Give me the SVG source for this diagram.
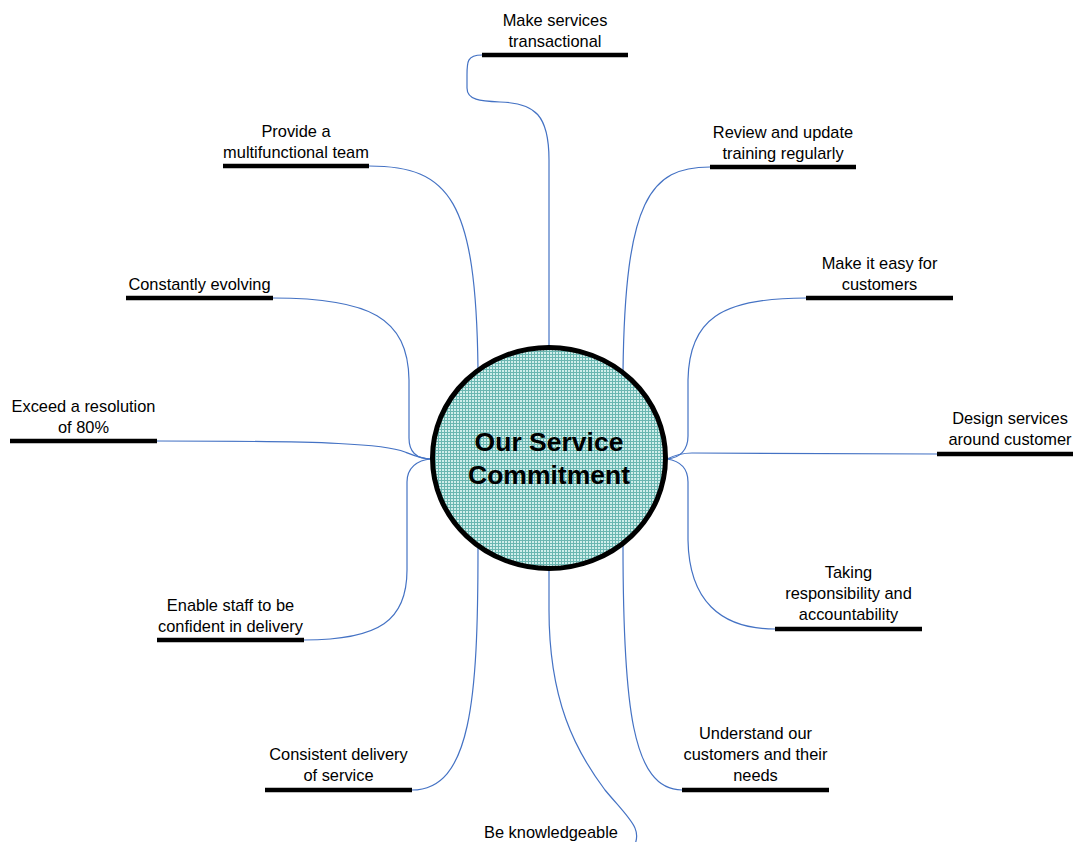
<svg xmlns="http://www.w3.org/2000/svg" width="1073" height="842" viewBox="0 0 1073 842">
  <style>
    .lbl { font-family: "Liberation Sans", Arial, sans-serif; font-size: 16.4px; fill: #000; text-anchor: middle; }
    .title { font-family: "Liberation Sans", Arial, sans-serif; font-size: 26.5px; font-weight: bold; fill: #000; text-anchor: middle; }
    .bar { stroke: #000; stroke-width: 4.5; fill: none; }
    .conn { stroke: #4472c4; stroke-width: 1.2; fill: none; }
  </style>
  <defs>
    <!-- fine teal grid used to fill the central hub -->
    <pattern id="grid" width="3" height="3" patternUnits="userSpaceOnUse">
      <rect width="3" height="3" fill="#d0eeeb"/>
      <rect width="3" height="1" fill="#6ab6b1"/>
      <rect width="1" height="3" fill="#6ab6b1"/>
    </pattern>
  </defs>
  <rect width="1073" height="842" fill="#fff"/>

  <!-- connectors from the hub to each label -->
  <g id="connectors">
    <path class="conn" d="M482,55 C467,55 467,62 467,75 L467,88 C467,100 480,101 500,102 C535,103 549,115 549,160 L549,348"/>
    <path class="conn" d="M369,166 C450,166 476,200 478,369"/>
    <path class="conn" d="M710,167 C650,167 625,200 623,372"/>
    <path class="conn" d="M273,298 C370,298 408,318 409,380 L409,438 C409,452 416,459 431,459"/>
    <path class="conn" d="M806,298 C720,298 689,320 688,380 L688,436 C688,450 680,458 667,459"/>
    <path class="conn" d="M157,441 C330,441 385,444 405,452 C415,456 422,459 431,459"/>
    <path class="conn" d="M937,454 L692,453 C681,453 673,456 667,459"/>
    <path class="conn" d="M304,640 C380,640 407,620 407,570 L407,482 C407,468 417,460 431,459"/>
    <path class="conn" d="M775,629 C720,629 689,600 688,540 L688,482 C688,468 680,461 667,459"/>
    <path class="conn" d="M478,548 C478,700 471,790 412,790"/>
    <path class="conn" d="M623,545 C623,705 632,790 682,790"/>
    <path class="conn" d="M549,568 L549,610 C549,700 575,750 605,790 C630,820 645,830 632,850"/>
  </g>

  <!-- central hub -->
  <g id="hub">
    <ellipse cx="549" cy="458" rx="116.5" ry="110.5" fill="url(#grid)" stroke="#000" stroke-width="5"/>
    <text class="title" x="549" y="451">Our Service</text>
    <text class="title" x="549" y="484">Commitment</text>
  </g>

  <g id="n-transactional">
    <line class="bar" x1="482" y1="55" x2="628" y2="55"/>
    <text class="lbl" x="555" y="26">Make services</text>
    <text class="lbl" x="555" y="47">transactional</text>
  </g>
  <g id="n-team">
    <line class="bar" x1="223" y1="166" x2="369" y2="166"/>
    <text class="lbl" x="296" y="137">Provide a</text>
    <text class="lbl" x="296" y="158">multifunctional team</text>
  </g>
  <g id="n-training">
    <line class="bar" x1="710" y1="167" x2="856" y2="167"/>
    <text class="lbl" x="783" y="138">Review and update</text>
    <text class="lbl" x="783" y="159">training regularly</text>
  </g>
  <g id="n-evolving">
    <line class="bar" x1="126" y1="298" x2="273" y2="298"/>
    <text class="lbl" x="199.5" y="290">Constantly evolving</text>
  </g>
  <g id="n-easy">
    <line class="bar" x1="806" y1="298" x2="953" y2="298"/>
    <text class="lbl" x="879.5" y="269">Make it easy for</text>
    <text class="lbl" x="879.5" y="290">customers</text>
  </g>
  <g id="n-resolution">
    <line class="bar" x1="10" y1="441" x2="157" y2="441"/>
    <text class="lbl" x="83.5" y="412">Exceed a resolution</text>
    <text class="lbl" x="83.5" y="433">of 80%</text>
  </g>
  <g id="n-design">
    <line class="bar" x1="937" y1="454" x2="1083" y2="454"/>
    <text class="lbl" x="1010" y="424">Design services</text>
    <text class="lbl" x="1010" y="445">around customer</text>
  </g>
  <g id="n-confident">
    <line class="bar" x1="157" y1="640" x2="304" y2="640"/>
    <text class="lbl" x="230.5" y="611">Enable staff to be</text>
    <text class="lbl" x="230.5" y="632">confident in delivery</text>
  </g>
  <g id="n-responsibility">
    <line class="bar" x1="775" y1="629" x2="922" y2="629"/>
    <text class="lbl" x="848.5" y="578">Taking</text>
    <text class="lbl" x="848.5" y="599">responsibility and</text>
    <text class="lbl" x="848.5" y="620">accountability</text>
  </g>
  <g id="n-consistent">
    <line class="bar" x1="265" y1="790" x2="412" y2="790"/>
    <text class="lbl" x="338.5" y="760">Consistent delivery</text>
    <text class="lbl" x="338.5" y="781">of service</text>
  </g>
  <g id="n-understand">
    <line class="bar" x1="682" y1="790" x2="829" y2="790"/>
    <text class="lbl" x="755.5" y="739">Understand our</text>
    <text class="lbl" x="755.5" y="760">customers and their</text>
    <text class="lbl" x="755.5" y="781">needs</text>
  </g>
  <g id="n-knowledgeable">
    <line class="bar" x1="478" y1="849" x2="625" y2="849"/>
    <text class="lbl" x="551" y="838">Be knowledgeable</text>
  </g>
</svg>
